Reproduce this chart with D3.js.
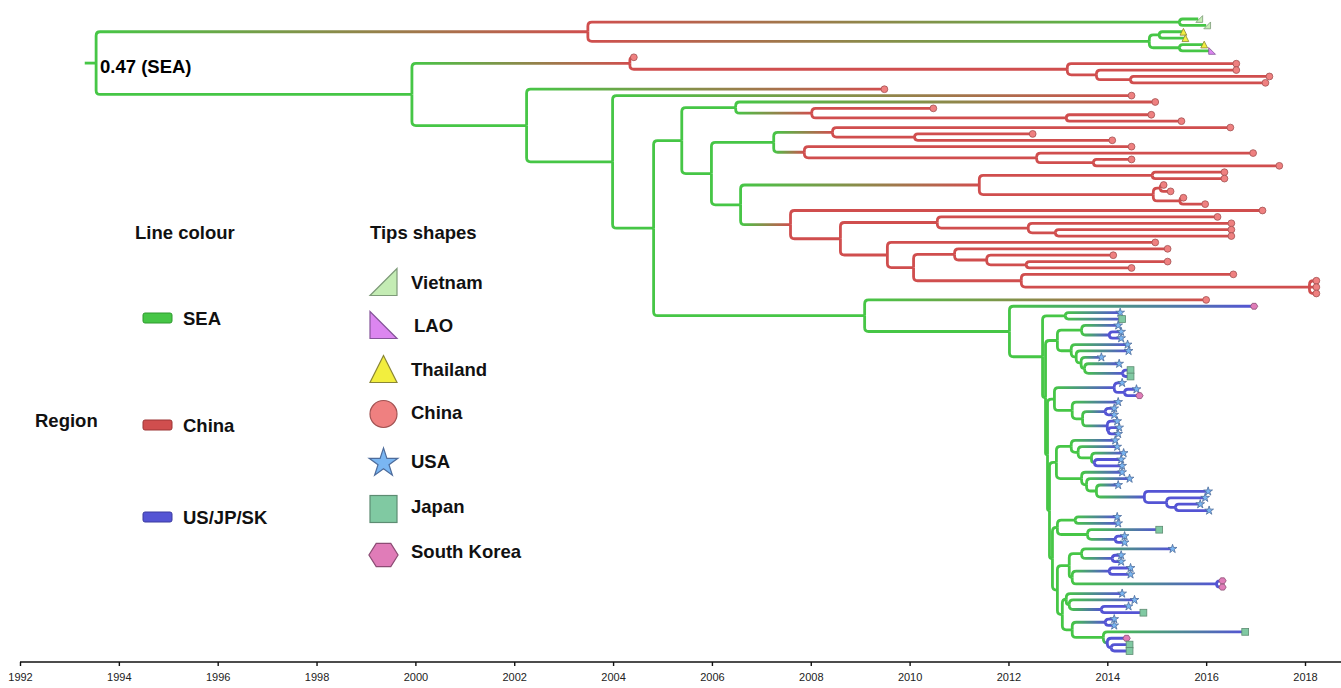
<!DOCTYPE html>
<html>
<head>
<meta charset="utf-8">
<script src="https://cdn.jsdelivr.net/npm/d3@7"></script>
<style>
  body { margin: 0; background: #fff; }
  text { font-family: "Liberation Sans", Arial, sans-serif; }
</style>
</head>
<body>
<div id="container"></div>
<script>
// axis ticks
const tickYears = d3.range(1992, 2019, 2)

// legend entries
const regionNames = ["SEA", "China", "US/JP/SK"]
const regionKeys = ["S", "C", "U"]
const countryNames = ["Vietnam", "LAO", "Thailand", "China", "USA", "Japan", "South Korea"]

const rootLabel = "0.47 (SEA)"
const rootStem = 1993.31

// internal nodes: [id, parent, year, region]
const nodes = [
  ["root", null, 1993.54, "S"],
  ["nA", "root", 2003.49, "C"],
  ["nVN", "nA", 2015.46, "S"],
  ["nTH", "nA", 2014.85, "S"],
  ["nTH1", "nTH", 2015.05, "S"],
  ["nTH2", "nTH", 2015.46, "S"],
  ["n412", "root", 1999.93, "S"],
  ["n630", "n412", 2004.34, "C"],
  ["n1068", "n630", 2013.19, "C"],
  ["n1097", "n1068", 2013.78, "C"],
  ["n1131", "n1097", 2014.47, "C"],
  ["n527", "n412", 2002.25, "S"],
  ["n613", "n527", 2003.99, "S"],
  ["n654", "n613", 2004.82, "S"],
  ["n682", "n654", 2005.39, "S"],
  ["n736", "n682", 2006.48, "S"],
  ["n812", "n736", 2008.02, "C"],
  ["n1067", "n812", 2013.17, "C"],
  ["n712", "n682", 2005.99, "S"],
  ["n774", "n712", 2007.25, "S"],
  ["n833", "n774", 2008.44, "C"],
  ["n915", "n833", 2010.10, "C"],
  ["n805", "n774", 2007.87, "C"],
  ["n1037", "n805", 2012.57, "C"],
  ["n1094", "n1037", 2013.72, "C"],
  ["n741", "n712", 2006.58, "S"],
  ["n980", "n741", 2011.41, "C"],
  ["n1153", "n980", 2014.91, "C"],
  ["n1154", "n980", 2014.93, "C"],
  ["n1161", "n1154", 2015.07, "C"],
  ["n1180", "n1154", 2015.47, "C"],
  ["n791", "n741", 2007.59, "C"],
  ["n841", "n791", 2008.60, "C"],
  ["n938", "n841", 2010.56, "C"],
  ["n1029", "n938", 2012.40, "C"],
  ["n1056", "n1029", 2012.95, "C"],
  ["n888", "n841", 2009.55, "C"],
  ["n914", "n888", 2010.08, "C"],
  ["n955", "n914", 2010.91, "C"],
  ["n987", "n955", 2011.56, "C"],
  ["n1027", "n987", 2012.36, "C"],
  ["n1022", "n914", 2012.26, "C"],
  ["n1310", "n1022", 2018.09, "C"],
  ["n865", "n654", 2009.09, "S"],
  ["n1010", "n865", 2012.02, "S"],
  ["b0", "n1010", 2012.69, "S"],
  ["b1066", "b0", 2013.15, "S"],
  ["b1", "b0", 2012.75, "S"],
  ["b1058", "b1", 2012.99, "S"],
  ["b1082", "b1058", 2013.48, "S"],
  ["b1110", "b1082", 2014.04, "U"],
  ["b1072", "b1058", 2013.27, "S"],
  ["b1077", "b1072", 2013.37, "S"],
  ["b1081", "b1077", 2013.47, "S"],
  ["b1085", "b1081", 2013.54, "S"],
  ["b1123", "b1085", 2014.31, "U"],
  ["b2", "b1", 2012.79, "S"],
  ["b1055", "b2", 2012.93, "S"],
  ["b1115", "b1055", 2014.14, "U"],
  ["b1125", "b1115", 2014.35, "U"],
  ["b1073", "b1055", 2013.29, "S"],
  ["b1083", "b1073", 2013.50, "S"],
  ["b1106", "b1083", 2013.96, "U"],
  ["b1108", "b1083", 2014.00, "U"],
  ["b1109", "b1108", 2014.02, "U"],
  ["b3", "b2", 2012.83, "S"],
  ["b1057", "b3", 2012.97, "S"],
  ["c1072", "b1057", 2013.27, "S"],
  ["c1079", "c1072", 2013.41, "S"],
  ["c1092", "c1079", 2013.68, "S"],
  ["c1095", "c1092", 2013.74, "U"],
  ["c1082", "b1057", 2013.48, "S"],
  ["c1087", "c1082", 2013.58, "S"],
  ["c1097", "c1087", 2013.78, "S"],
  ["c1145", "c1097", 2014.75, "U"],
  ["c1167", "c1145", 2015.20, "U"],
  ["c1176", "c1167", 2015.38, "U"],
  ["b4", "b3", 2012.89, "S"],
  ["g5", "b4", 2012.99, "S"],
  ["g5a", "g5", 2013.35, "S"],
  ["g5b", "g5", 2013.60, "S"],
  ["g5c", "g5b", 2014.16, "U"],
  ["b5", "b4", 2012.99, "S"],
  ["g6", "b5", 2013.23, "S"],
  ["g6a", "g6", 2013.48, "S"],
  ["g6b", "g6a", 2014.10, "U"],
  ["g6c", "g6", 2013.29, "S"],
  ["g6d", "g6c", 2014.04, "U"],
  ["g6e", "g6c", 2016.21, "U"],
  ["b6", "b5", 2013.09, "S"],
  ["g7", "b6", 2013.17, "S"],
  ["g7a", "g7", 2013.23, "S"],
  ["g7b", "g7a", 2013.88, "U"],
  ["g8", "b6", 2013.29, "S"],
  ["g8a", "g8", 2013.96, "U"],
  ["g8b", "g8", 2013.92, "S"],
  ["g8c", "g8b", 2014.00, "U"],
  ["g8d", "g8c", 2014.08, "U"]
]

// tips in top-to-bottom order: [parent, year, country]
const tips = [
  ["nVN", 2015.84, "Vietnam"], ["nVN", 2016.00, "Vietnam"],
  ["nTH1", 2015.52, "Thailand"], ["nTH1", 2015.56, "Thailand"],
  ["nTH2", 2015.94, "Thailand"], ["nTH2", 2016.10, "LAO"],
  ["n630", 2004.40, "China"],
  ["n1068", 2016.59, "China"], ["n1097", 2016.59, "China"],
  ["n1131", 2017.26, "China"], ["n1131", 2017.18, "China"],
  ["n527", 2009.47, "China"],
  ["n613", 2014.47, "China"],
  ["n736", 2014.95, "China"],
  ["n812", 2010.46, "China"],
  ["n1067", 2014.87, "China"], ["n1067", 2015.48, "China"],
  ["n833", 2016.47, "China"],
  ["n915", 2012.47, "China"], ["n915", 2014.08, "China"],
  ["n805", 2014.47, "China"],
  ["n1037", 2016.93, "China"],
  ["n1094", 2014.47, "China"], ["n1094", 2017.46, "China"],
  ["n1153", 2016.35, "China"], ["n1153", 2016.35, "China"],
  ["n1161", 2015.12, "China"], ["n1161", 2015.26, "China"],
  ["n1180", 2015.52, "China"], ["n1180", 2015.96, "China"],
  ["n791", 2017.12, "China"],
  ["n938", 2016.21, "China"],
  ["n1029", 2016.49, "China"],
  ["n1056", 2016.49, "China"], ["n1056", 2016.49, "China"],
  ["n888", 2014.95, "China"],
  ["n955", 2015.20, "China"],
  ["n987", 2014.10, "China"],
  ["n1027", 2015.20, "China"], ["n1027", 2014.47, "China"],
  ["n1022", 2016.53, "China"],
  ["n1310", 2018.21, "China"], ["n1310", 2018.21, "China"], ["n1310", 2018.21, "China"],
  ["n865", 2015.98, "China"],
  ["n1010", 2016.95, "South Korea"],
  ["b1066", 2014.24, "USA"], ["b1066", 2014.28, "Japan"],
  ["b1082", 2014.20, "USA"],
  ["b1110", 2014.26, "USA"], ["b1110", 2014.26, "USA"],
  ["b1072", 2014.39, "USA"],
  ["b1077", 2014.41, "USA"],
  ["b1081", 2013.86, "USA"],
  ["b1085", 2014.22, "USA"],
  ["b1123", 2014.45, "Japan"], ["b1123", 2014.45, "Japan"],
  ["b1115", 2014.28, "USA"],
  ["b1125", 2014.57, "USA"], ["b1125", 2014.63, "South Korea"],
  ["b1073", 2014.20, "USA"],
  ["b1106", 2014.12, "USA"], ["b1106", 2014.12, "USA"],
  ["b1108", 2014.18, "USA"],
  ["b1109", 2014.22, "USA"], ["b1109", 2014.20, "USA"],
  ["c1072", 2014.14, "USA"],
  ["c1079", 2014.18, "USA"],
  ["c1092", 2014.31, "USA"],
  ["c1095", 2014.26, "USA"], ["c1095", 2014.28, "USA"],
  ["c1082", 2014.28, "USA"],
  ["c1087", 2014.43, "USA"],
  ["c1097", 2014.20, "USA"],
  ["c1145", 2016.02, "USA"],
  ["c1167", 2015.96, "USA"],
  ["c1176", 2015.86, "USA"], ["c1176", 2016.04, "USA"],
  ["g5a", 2014.18, "USA"], ["g5a", 2014.20, "USA"],
  ["g5b", 2015.03, "Japan"],
  ["g5c", 2014.33, "USA"], ["g5c", 2014.33, "USA"],
  ["g6a", 2015.30, "USA"],
  ["g6b", 2014.26, "USA"], ["g6b", 2014.26, "USA"],
  ["g6d", 2014.45, "USA"], ["g6d", 2014.45, "USA"],
  ["g6e", 2016.31, "South Korea"], ["g6e", 2016.31, "South Korea"],
  ["g7", 2014.28, "USA"],
  ["g7a", 2014.53, "USA"],
  ["g7b", 2014.41, "USA"], ["g7b", 2014.71, "Japan"],
  ["g8a", 2014.12, "USA"], ["g8a", 2014.12, "USA"],
  ["g8b", 2016.77, "Japan"],
  ["g8c", 2014.37, "South Korea"],
  ["g8d", 2014.43, "Japan"], ["g8d", 2014.43, "Japan"]
]

const width = 1341
const height = 688
const colour = {S: "#46c646", C: "#d04e4e", U: "#5454d4"}
const edgeColour = {S: "#2f9a2f", C: "#9c3434", U: "#3a3aa0"}
const countryRegion = {"Vietnam": "S", "LAO": "S", "Thailand": "S", "China": "C",
                       "USA": "U", "Japan": "U", "South Korea": "U"}

const x = d3.scaleLinear().domain([1992, 2018]).range([20, 1305])
const y = d3.scaleLinear().domain([0, tips.length - 1]).range([19, 651])

// build tree
const byId = new Map()
nodes.forEach(([id, parent, year, region]) => byId.set(id, {id, parent, year, region, children: []}))
tips.forEach(([parent, year, country], i) => {
  byId.set("tip" + i, {id: "tip" + i, parent, year, region: countryRegion[country], country, index: i, children: []})
})
byId.forEach(n => { if (n.parent) byId.get(n.parent).children.push(n) })
const root = byId.get("root")

function placeY(n) {
  if (n.index !== undefined) { n.y = y(n.index); return n.y }
  const ys = n.children.map(placeY)
  n.y = (d3.min(ys) + d3.max(ys)) / 2
  return n.y
}
placeY(root)

const svg = d3.create("svg").attr("width", width).attr("height", height)
const defs = svg.append("defs")

function elbow(px, py, cx, cy) {
  const dy = cy - py
  if (Math.abs(dy) < 0.5) return `M${px},${cy}H${cx}`
  const r = Math.min(4, Math.abs(dy), Math.max(cx - px, 0))
  const s = Math.sign(dy)
  return `M${px},${py}V${cy - s * r}Q${px},${cy} ${px + r},${cy}H${cx}`
}

const branches = svg.append("g").attr("fill", "none").attr("stroke-width", 2.8)

branches.append("path")
  .attr("d", `M${x(rootStem)},${root.y}H${x(root.year)}`)
  .attr("stroke", colour.S)

let gid = 0
byId.forEach(n => {
  if (!n.parent) return
  const p = byId.get(n.parent)
  const px = x(p.year), cx = x(n.year)
  let stroke = colour[n.region]
  if (p.region !== n.region) {
    const id = "g" + (gid++)
    const g = defs.append("linearGradient").attr("id", id)
      .attr("gradientUnits", "userSpaceOnUse")
      .attr("x1", px).attr("x2", cx).attr("y1", 0).attr("y2", 0)
    g.append("stop").attr("offset", 0).attr("stop-color", colour[p.region])
    g.append("stop").attr("offset", 1).attr("stop-color", colour[n.region])
    stroke = `url(#${id})`
  }
  branches.append("path").attr("d", elbow(px, p.y, cx, n.y)).attr("stroke", stroke)
})

// tip shapes
const shapeStyle = {
  "Vietnam": {fill: "#c4ecb4", stroke: "#7d9a78"},
  "LAO": {fill: "#dc86f0", stroke: "#85559a"},
  "Thailand": {fill: "#f2ee3e", stroke: "#8a8636"},
  "China": {fill: "#ef8080", stroke: "#a25252"},
  "USA": {fill: "#7ab6f2", stroke: "#4d6c9c"},
  "Japan": {fill: "#80c9a2", stroke: "#5d8c72"},
  "South Korea": {fill: "#e07cb8", stroke: "#8c4c74"}
}

function drawShape(g, country, cx, cy, s) {
  const st = shapeStyle[country]
  let el
  if (country === "China") {
    el = g.append("circle").attr("cx", cx).attr("cy", cy).attr("r", s)
  } else if (country === "USA") {
    const R = s < 6 ? s * 1.35 : s * 1.12
    el = g.append("path").attr("transform", `translate(${cx},${cy})`)
      .attr("d", d3.symbol(d3.symbolStar, R * R / 0.8908)())
  } else if (country === "Japan") {
    el = g.append("rect").attr("x", cx - s).attr("y", cy - s).attr("width", 2 * s).attr("height", 2 * s)
  } else {
    let pts
    if (country === "Vietnam") pts = [[-s, s], [s, s], [s, -s]]
    else if (country === "LAO") pts = [[-s, -s], [-s, s], [s, s]]
    else if (country === "Thailand") pts = [[0, -s], [-s, s], [s, s]]
    else pts = d3.range(6).map(k => [Math.cos(k * Math.PI / 3) * s * 1.08, Math.sin(k * Math.PI / 3) * s])
    el = g.append("polygon").attr("points", pts.map(p => [cx + p[0], cy + p[1]].join(",")).join(" "))
  }
  el.attr("fill", st.fill).attr("stroke", st.stroke).attr("stroke-width", s > 6 ? 1.2 : 0.8)
}

const tipG = svg.append("g")
byId.forEach(n => {
  if (n.index === undefined) return
  drawShape(tipG, n.country, x(n.year) + 1, n.y, 3.4)
})

// root label
svg.append("text").attr("x", 100).attr("y", 67).attr("dy", "0.35em")
  .attr("font-size", 18.5).attr("font-weight", "bold").text(rootLabel)

// legend
const legend = svg.append("g").attr("font-size", 18.5).attr("font-weight", "bold").attr("fill", "#111")
legend.append("text").attr("x", 135).attr("y", 233).attr("dy", "0.35em").text("Line colour")
legend.append("text").attr("x", 370).attr("y", 233).attr("dy", "0.35em").text("Tips shapes")
legend.append("text").attr("x", 35).attr("y", 421).attr("dy", "0.35em").text("Region")

const regionRowY = [318, 425, 517]
regionNames.forEach((r, i) => {
  const k = regionKeys[i]
  const ry = regionRowY[i]
  legend.append("rect").attr("x", 143).attr("y", ry - 5).attr("width", 29).attr("height", 10)
    .attr("rx", 2).attr("fill", colour[k]).attr("stroke", edgeColour[k]).attr("stroke-width", 1)
  legend.append("text").attr("x", 183).attr("y", ry + 1).attr("dy", "0.35em").text(r)
})

const iconRowY = [282, 325, 369, 414, 463, 509, 555]
const labelRowY = [283, 326, 370, 413, 462, 507, 552]
countryNames.forEach((c, i) => {
  drawShape(legend, c, 383.5, iconRowY[i], 13.5)
  legend.append("text").attr("x", c === "LAO" ? 414 : 411).attr("y", labelRowY[i]).attr("dy", "0.35em").text(c)
})

// time axis
const axisY = 662
svg.append("line").attr("x1", x(1992)).attr("x2", width).attr("y1", axisY).attr("y2", axisY)
  .attr("stroke", "#111").attr("stroke-width", 1.6)
const axis = svg.append("g").attr("transform", `translate(0,${axisY})`)
  .call(d3.axisBottom(x).tickValues(tickYears).tickFormat(d3.format("d")).tickSize(4).tickPadding(7))
axis.select(".domain").remove()
axis.selectAll(".tick line").attr("stroke", "#111").attr("stroke-width", 1.4)
axis.selectAll(".tick text").attr("font-family", "'Liberation Sans', Arial, sans-serif")
  .attr("font-size", 11).attr("fill", "#222")

document.querySelector("#container").appendChild(svg.node())
</script>
</body>
</html>
